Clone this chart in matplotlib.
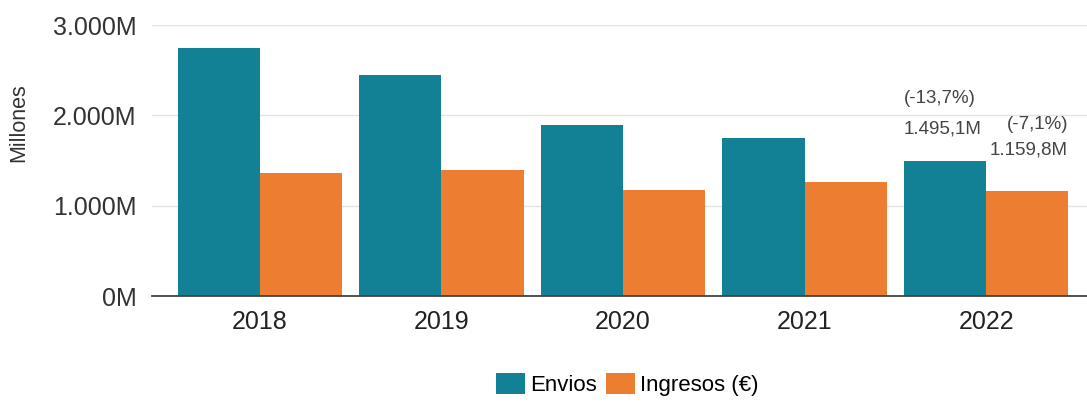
import numpy as np
import matplotlib.pyplot as plt

plt.rcParams['font.family'] = ['Liberation Sans', 'DejaVu Sans']

years = ['2018', '2019', '2020', '2021', '2022']
envios = [2746, 2447, 1894, 1750, 1495.1]
ingresos = [1362, 1395, 1174, 1262, 1159.8]
yticks = [0, 1000, 2000, 3000]
ytick_labels = ['0M', '1.000M', '2.000M', '3.000M']

teal = '#128196'
orange = '#ED7D31'

fig = plt.figure(figsize=(10.87, 4.05), dpi=100)
ax = fig.add_axes([0.1398, 0.2691, 0.8602, 0.6691])

x = np.arange(len(years))
w = 0.452
ax.bar(x - w / 2, envios, w, color=teal, label='Envios')
ax.bar(x + w / 2, ingresos, w, color=orange, label='Ingresos (€)')

ax.set_xlim(-0.595, 4.556)
ax.set_ylim(0, 3000)
ax.set_yticks(yticks)
ax.set_yticklabels(ytick_labels, fontsize=18, color='#333333')
ax.set_xticks(x)
ax.set_xticklabels(years, fontsize=18, color='#222222')
ax.tick_params(axis='x', length=0, pad=10)
ax.tick_params(axis='y', length=0, pad=11)
ax.grid(axis='y', color='#e4e4e4', linewidth=1)
ax.set_axisbelow(True)
for s in ['top', 'right', 'left']:
    ax.spines[s].set_visible(False)
ax.spines['bottom'].set_color('#444444')
ax.spines['bottom'].set_linewidth(1.3)
fig.text(19 / 1087, 1 - 123 / 405, 'Millones', fontsize=15.5, color='#333333',
         rotation=90, ha='center', va='center')

# etiquetas del ultimo año
i = len(years) - 1
lbl = dict(fontsize=13.5, color='#444444', va='center', textcoords='offset points')
ax.annotate('1.495,1M', (x[i] - w, envios[i]), xytext=(0, 23), ha='left', **lbl)
ax.annotate('(-13,7%)', (x[i] - w, envios[i]), xytext=(0, 45), ha='left', **lbl)
ax.annotate('1.159,8M', (x[i] + w, ingresos[i]), xytext=(0, 30), ha='right', **lbl)
ax.annotate('(-7,1%)', (x[i] + w, ingresos[i]), xytext=(0, 48), ha='right', **lbl)

fig.legend(loc='center', bbox_to_anchor=(0.577, 0.05), ncol=2, frameon=False,
           fontsize=16, handlelength=1.3, handleheight=1.1, handletextpad=0.25,
           columnspacing=0.4, borderpad=0)

fig.savefig('out.png', dpi=100)
